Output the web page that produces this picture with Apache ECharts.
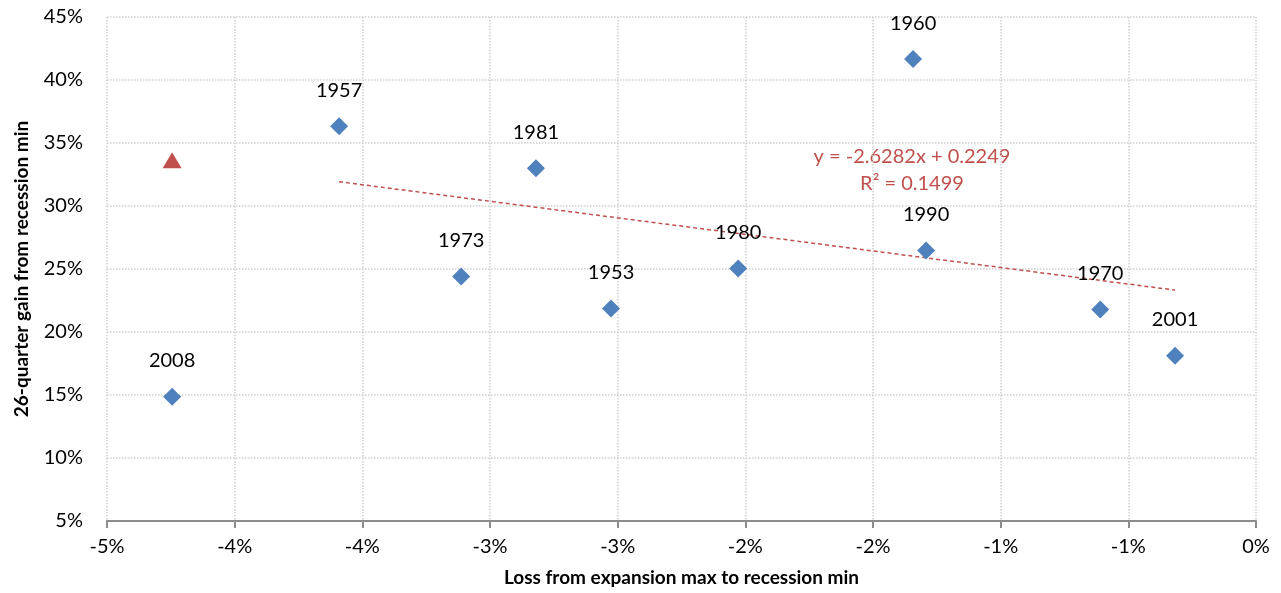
<!DOCTYPE html>
<html>
<head>
<meta charset="utf-8">
<script src="https://cdn.jsdelivr.net/npm/echarts@6/dist/echarts.min.js"></script>
<style>
  html, body { margin: 0; padding: 0; background: #fff; }
  #chart { width: 1281px; height: 593px; }
</style>
</head>
<body>
<div id="chart"></div>
<script>
// recession years, loss from expansion max (%), 26-quarter gain (%)
var years = ['2008', '1957', '1973', '1981', '1953', '1980', '1960', '1990', '1970', '2001']
var lossPct = [-4.245, -3.591, -3.113, -2.820, -2.526, -2.028, -1.343, -1.292, -0.610, -0.317]
var gainPct = [14.86, 36.33, 24.40, 33.00, 21.86, 25.04, 41.66, 26.47, 21.78, 18.12]

// the red triangle
var markerX = [-4.245]
var markerY = [33.63]

// trendline as printed on the chart (fit excludes 2008)
var slope = -2.6282
var intercept = 0.2249
var trendFrom = -3.591
var trendTo = -0.317

var font = 'Lato, "Open Sans", sans-serif'

function pctLabel(v) {
  // excel-style rounding, half away from zero
  var a = Math.round(Math.abs(v) * 1e4) / 1e4
  var r = Math.round(a)
  return (v < 0 && r !== 0 ? '-' : '') + r + '%'
}

var chart = echarts.init(document.getElementById('chart'))

var points = years.map(function (y, i) {
  return { name: y, value: [lossPct[i], gainPct[i]] }
})

var trendLine = [trendFrom, trendTo].map(function (x) {
  return [x, (slope * x / 100 + intercept) * 100]
})

var option = {
  animation: false,
  grid: { left: 107, right: 25, top: 17, bottom: 72 },
  xAxis: {
    type: 'value',
    min: -4.5,
    max: 0,
    interval: 0.5,
    name: 'Loss from expansion max to recession min',
    nameLocation: 'middle',
    nameGap: 47,
    nameTextStyle: { fontFamily: font, fontSize: 19, fontWeight: 'bold', color: '#000' },
    axisLine: { show: true, onZero: false, lineStyle: { color: '#8c8c8c', width: 2 } },
    axisTick: { show: true, length: 7, lineStyle: { color: '#8c8c8c', width: 2 } },
    axisLabel: { fontFamily: font, fontSize: 20, color: '#000', margin: 16, formatter: pctLabel },
    splitLine: { show: true, lineStyle: { color: '#cfcfcf', type: 'dotted', width: 1.5 } }
  },
  yAxis: {
    type: 'value',
    min: 5,
    max: 45,
    interval: 5,
    name: '26-quarter gain from recession min',
    nameLocation: 'middle',
    nameGap: 76,
    nameTextStyle: { fontFamily: font, fontSize: 19, fontWeight: 'bold', color: '#000' },
    axisLine: { show: false },
    axisTick: { show: false },
    axisLabel: { fontFamily: font, fontSize: 20, color: '#000', margin: 24, formatter: function (v) { return v + '%' } },
    splitLine: { show: true, lineStyle: { color: '#cfcfcf', type: 'dotted', width: 1.5 } }
  },
  series: [
    {
      type: 'line',
      data: trendLine,
      symbol: 'none',
      lineStyle: { color: '#C0504D', width: 1.5, type: [4, 3] },
      z: 1
    },
    {
      type: 'scatter',
      data: points,
      symbol: 'diamond',
      symbolSize: [18, 18],
      itemStyle: { color: '#4F81BD', opacity: 1 },
      label: {
        show: true,
        position: 'top',
        distance: 17,
        fontFamily: font,
        fontSize: 20,
        color: '#000',
        formatter: function (p) { return p.name }
      },
      z: 3
    },
    {
      type: 'scatter',
      data: markerX.map(function (x, i) { return [x, markerY[i]] }),
      symbol: 'triangle',
      symbolSize: [19, 16],
      itemStyle: { color: '#C0504D', opacity: 1 },
      z: 3
    }
  ],
  graphic: [
    {
      type: 'text',
      x: 912,
      y: 143,
      style: {
        text: 'y = -2.6282x + 0.2249\nR² = 0.1499',
        fill: '#C0504D',
        font: '20px ' + font,
        align: 'center',
        lineHeight: 27
      }
    }
  ]
}

chart.setOption(option)
</script>
</body>
</html>
